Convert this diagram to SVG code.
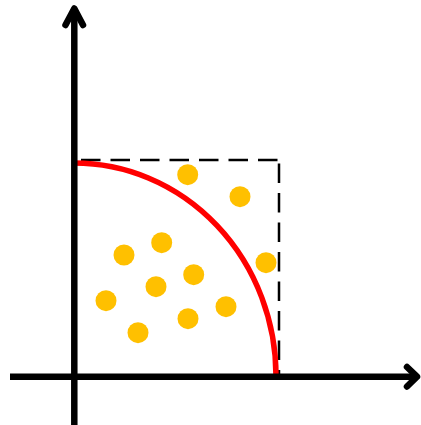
<svg xmlns="http://www.w3.org/2000/svg" width="421" height="425" viewBox="0 0 421 425">
<style>
.axis{stroke:#000;stroke-width:6.5;fill:none}
.head{stroke:#000;stroke-width:6.5;fill:none;stroke-linecap:round;stroke-linejoin:round}
.dash{stroke:#000;stroke-width:2.5;fill:none;stroke-dasharray:19.5 10}
.arc{stroke:#FF0000;stroke-width:5.5;fill:none}
.dot{fill:#FFC000}
</style>
<rect width="421" height="425" fill="#fff"/>
<g id="box">
<path class="dash" d="M81,160 H279"/>
<path class="dash" d="M279,163.5 V376"/>
</g>
<g id="arc">
<path class="arc" d="M74,163 A202,213 0 0 1 276,376"/>
</g>
<g id="dots">
<circle class="dot" cx="187.7" cy="174.7" r="10.5"/>
<circle class="dot" cx="240" cy="196.7" r="10.5"/>
<circle class="dot" cx="161.7" cy="242.7" r="10.5"/>
<circle class="dot" cx="124" cy="255" r="10.5"/>
<circle class="dot" cx="266" cy="262.7" r="10.5"/>
<circle class="dot" cx="193.7" cy="274.7" r="10.5"/>
<circle class="dot" cx="156" cy="286.7" r="10.5"/>
<circle class="dot" cx="106" cy="300.7" r="10.5"/>
<circle class="dot" cx="226" cy="306.7" r="10.5"/>
<circle class="dot" cx="188" cy="318.7" r="10.5"/>
<circle class="dot" cx="138" cy="332.7" r="10.5"/>
</g>
<g id="axes">
<path class="axis" d="M74.3,425 V9"/>
<path class="axis" d="M10,376.7 H416"/>
<path class="head" d="M65.5,25 L74.3,8.5 L83,25"/>
<path class="head" d="M407,367 L417,376.7 L407,386.5"/>
</g>
</svg>
